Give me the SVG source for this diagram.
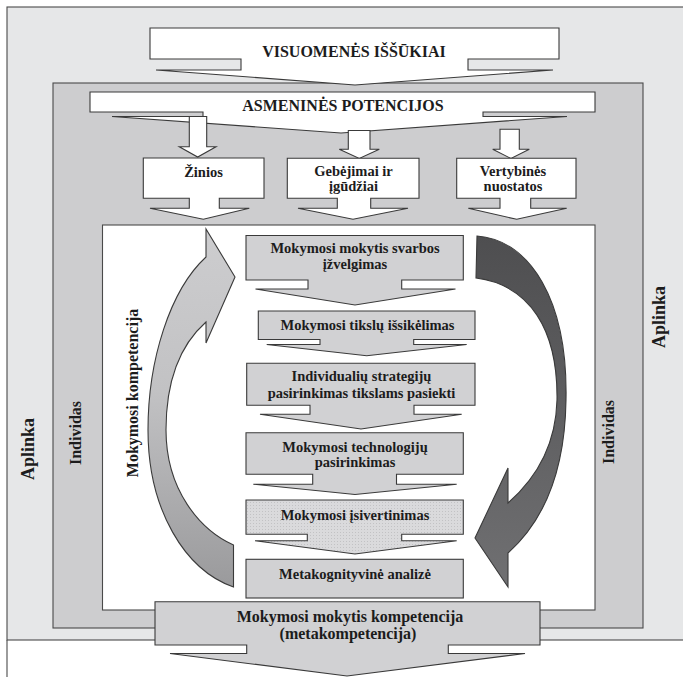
<svg xmlns="http://www.w3.org/2000/svg" width="683" height="677" viewBox="0 0 683 677">
<defs>
<style>
.frame{stroke:#4a4a4a;stroke-width:1.1;}
.wb{fill:#ffffff;stroke:#3a3a3a;stroke-width:1.1;stroke-linejoin:miter;}
.gb{fill:#d1d1d3;stroke:#3a3a3a;stroke-width:1.1;stroke-linejoin:miter;}
.t{font-family:"Liberation Serif","Times New Roman",serif;font-weight:bold;fill:#1c1c1c;text-anchor:middle;}
.s15{font-size:14.5px;}
.s145{font-size:14.5px;}
.s16{font-size:16px;}
.s18{font-size:18px;}
</style>
<pattern id="dots" width="3" height="3" patternUnits="userSpaceOnUse">
<rect width="3" height="3" fill="#dadadc"/>
<rect x="1" y="1" width="1" height="1" fill="#c2c2c4"/>
</pattern>
<linearGradient id="gl" x1="0" y1="0" x2="0" y2="1">
<stop offset="0" stop-color="#cdcdcf"/>
<stop offset="0.45" stop-color="#c2c2c4"/>
<stop offset="1" stop-color="#9a9a9c"/>
</linearGradient>
<linearGradient id="gr" x1="0" y1="0" x2="0" y2="1">
<stop offset="0" stop-color="#4e4e50"/>
<stop offset="1" stop-color="#707072"/>
</linearGradient>
</defs>

<!-- Environment / Individual frames -->
<g id="aplinka">
<rect class="frame" x="7" y="7" width="690" height="633" fill="#e6e7e8"/>
<line class="frame" x1="7" y1="640" x2="7" y2="677"/>
<text class="t s18" transform="translate(34,449) rotate(-90)">Aplinka</text>
<text class="t s18" transform="translate(665,317) rotate(-90)">Aplinka</text>
</g>

<g id="individas">
<rect class="frame" x="53" y="83" width="590" height="545" fill="#cdcdcf"/>
<text class="t s16" transform="translate(81,433) rotate(-90)">Individas</text>
<text class="t s16" transform="translate(614,432) rotate(-90)">Individas</text>
</g>

<g id="vidus">
<rect class="frame" x="102.5" y="225" width="492.5" height="385" fill="#ffffff"/>
<text class="t s16" transform="translate(138,393) rotate(-90)">Mokymosi kompetencija</text>
</g>

<g id="visuomenes">
<path class="wb" d="M150,28 H559 V59 H468 V70 H553 L355,85 L156,70 H241 V59 H150 Z"/>
<text class="t s16" x="354" y="57">VISUOMENĖS IŠŠŪKIAI</text>
</g>

<g id="asmenines">
<path class="wb" d="M90,92 H595 V112 H483 V116.5 H567 L341,133 L112,116.5 H203 V112 H90 Z"/>
<text class="t s16" x="343" y="111">ASMENINĖS POTENCIJOS</text>
</g>

<g id="zinios">
<path class="wb" d="M189.3,116.5 H206.7 V146.7 H216 L197.7,157 L179.3,146.7 H189.3 Z"/>
<path class="wb" d="M143.3,158 H264 V198.3 H219.3 V208.3 H249.3 L203.3,219.3 L150,208.3 H189.3 V198.3 H143.3 Z"/>
<text class="t s15" x="203.5" y="176.5">Žinios</text>
</g>

<g id="gebejimai">
<path class="wb" d="M348.3,130.5 H370 V149.3 H379.3 L359.3,158.5 L339.3,149.3 H348.3 Z"/>
<path class="wb" d="M287.3,158.3 H419 V198.3 H370.7 V208.3 H408 L353,219.3 L298,208.3 H337.3 V198.3 H287.3 Z"/>
<text class="t s15" x="353.5" y="176">Gebėjimai ir</text>
<text class="t s15" x="353.5" y="191">įgūdžiai</text>
</g>

<g id="vertybines">
<path class="wb" d="M500,129.3 H519.3 V149.3 H529.3 L511,158.5 L492.7,149.3 H500 Z"/>
<path class="wb" d="M456.7,158.3 H576 V198.3 H530.7 V208.3 H566.7 L516.7,219.3 L468.3,208.3 H500 V198.3 H456.7 Z"/>
<text class="t s15" x="513" y="176">Vertybinės</text>
<text class="t s15" x="513" y="191">nuostatos</text>
</g>

<!-- connectors: curved cycle arrows -->
<g id="connectors">
<path d="M206,257 L206,229 L235,277 L206,343 L206,322 C180,345 166,380 166,430 C166,490 200,530 233.5,545 L233.5,587 C185,570 148,510 148,430 C148,360 170,290 206,257 Z" fill="url(#gl)" stroke="#3a3a3a" stroke-width="1.1"/>
<path d="M477,236 C530,240 568,300 566,400 C565,470 545,520 508,553 L508,587 L475,538 L508,468 L508,503 C540,475 556,440 557,400 C558,330 530,285 476,278 Z" fill="url(#gr)" stroke="#3a3a3a" stroke-width="1.1"/>
</g>

<g id="svarbos">
<path class="gb" d="M246,235.5 H463.3 V280 H401.7 V289 H455.5 L355,305 L255.5,289 H308 V280 H246 Z"/>
<text class="t s145" x="355" y="253">Mokymosi mokytis svarbos</text>
<text class="t s145" x="355" y="269">įžvelgimas</text>
</g>

<g id="tikslu">
<path class="gb" d="M258.3,311 H475 V339.5 H413.7 V344.5 H466.7 L366.7,355.7 L266.7,344.5 H320 V339.5 H258.3 Z"/>
<text class="t s145" x="367.5" y="330">Mokymosi tikslų išsikėlimas</text>
</g>

<g id="strategiju">
<path class="gb" d="M246.7,363.3 H475 V405.3 H414 V414.3 H461.7 L361,429 L260,414.3 H310 V405.3 H246.7 Z"/>
<text class="t s145" x="361.5" y="381">Individualių strategijų</text>
<text class="t s145" x="361.5" y="398">pasirinkimas tikslams pasiekti</text>
</g>

<g id="technologiju">
<path class="gb" d="M246,432.7 H463.3 V474.2 H396.5 V484.2 H456.7 L355,494.5 L253.3,484.2 H312.7 V474.2 H246 Z"/>
<text class="t s145" x="355" y="452">Mokymosi technologijų</text>
<text class="t s145" x="355" y="467">pasirinkimas</text>
</g>

<g id="isivertinimas">
<path d="M246,500 H463.3 V534.3 H401.7 V540.7 H456.7 L355,554 L255,540.7 H307.3 V534.3 H246 Z" fill="url(#dots)" stroke="#3a3a3a" stroke-width="1.1"/>
<text class="t s145" x="355" y="519.5">Mokymosi įsivertinimas</text>
</g>

<g id="metakognityvine">
<rect class="gb" x="246" y="559.3" width="217.3" height="38.7"/>
<text class="t s145" x="355" y="578.5">Metakognityvinė analizė</text>
</g>

<g id="kompetencija">
<path class="gb" d="M155,601.7 H540 V645 H448.3 V653.5 H525 L347,676 L170,653.5 H246.7 V645 H155 Z"/>
<text class="t s16" x="350" y="622">Mokymosi mokytis kompetencija</text>
<text class="t s16" x="348" y="638.5">(metakompetencija)</text>
</g>
</svg>
